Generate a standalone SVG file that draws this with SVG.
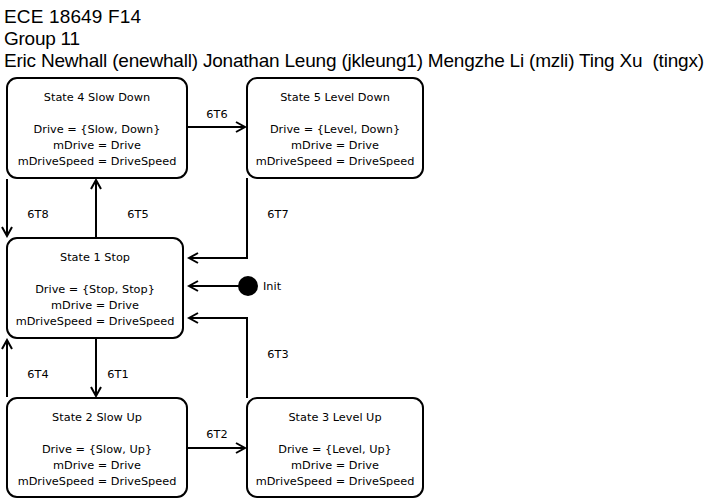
<svg xmlns="http://www.w3.org/2000/svg" width="710" height="499" viewBox="0 0 710 499">
<style>
.hdr{font-family:"Liberation Sans",Arial,sans-serif;font-size:19px;fill:#000}
.st{fill:#fff;stroke:#000;stroke-width:2}
.t{font-family:"DejaVu Sans",Tahoma,sans-serif;font-size:11.3px;fill:#000;text-anchor:middle}
.lbl{font-family:"DejaVu Sans",Tahoma,sans-serif;font-size:11.3px;fill:#000;text-anchor:middle}
.c{fill:none;stroke:#000;stroke-width:2}
</style>
<defs>
<marker id="ah" markerWidth="12" markerHeight="12" refX="10" refY="6" orient="auto" markerUnits="userSpaceOnUse">
<path d="M1,1 L10,6 L1,11" fill="none" stroke="#000" stroke-width="2"/>
</marker>
</defs>
<rect width="710" height="499" fill="#fff"/>
<g id="header">
<text class="hdr" x="4" y="23" textLength="137">ECE 18649 F14</text>
<text class="hdr" x="4" y="45" textLength="76">Group 11</text>
<text class="hdr" x="4" y="67" textLength="700" xml:space="preserve">Eric Newhall (enewhall) Jonathan Leung (jkleung1) Mengzhe Li (mzli) Ting Xu  (tingx)</text>
</g>
<g id="connectors">
<line class="c" x1="187" y1="127" x2="245" y2="127" marker-end="url(#ah)"/>
<line class="c" x1="7" y1="179" x2="7" y2="236" marker-end="url(#ah)"/>
<line class="c" x1="96" y1="238" x2="96" y2="180" marker-end="url(#ah)"/>
<polyline class="c" points="247,178 247,258 189,258" marker-end="url(#ah)"/>
<line class="c" x1="240" y1="286" x2="189" y2="286" marker-end="url(#ah)"/>
<polyline class="c" points="247,398 247,318 189,318" marker-end="url(#ah)"/>
<line class="c" x1="7" y1="397" x2="7" y2="340" marker-end="url(#ah)"/>
<line class="c" x1="96" y1="338" x2="96" y2="396" marker-end="url(#ah)"/>
<line class="c" x1="187" y1="448" x2="245" y2="448" marker-end="url(#ah)"/>
<text class="lbl" x="217" y="118">6T6</text>
<text class="lbl" x="38" y="218">6T8</text>
<text class="lbl" x="138" y="218">6T5</text>
<text class="lbl" x="278" y="218">6T7</text>
<text class="lbl" x="278" y="358">6T3</text>
<text class="lbl" x="38" y="378">6T4</text>
<text class="lbl" x="118" y="378">6T1</text>
<text class="lbl" x="217" y="438">6T2</text>
</g>
<g id="init">
<circle cx="248" cy="286" r="10" fill="#000"/>
<text x="263" y="290" font-family="DejaVu Sans,Tahoma,sans-serif" font-size="11.3">Init</text>
</g>
<g id="state4">
<rect class="st" x="7" y="78" width="180" height="100" rx="10"/>
<text class="t" x="97" y="101">State 4 Slow Down</text>
<text class="t" x="97" y="133">Drive = {Slow, Down}</text>
<text class="t" x="97" y="149">mDrive = Drive</text>
<text class="t" x="97" y="165">mDriveSpeed = DriveSpeed</text>
</g>
<g id="state5">
<rect class="st" x="247" y="78" width="176" height="100" rx="10"/>
<text class="t" x="335" y="101">State 5 Level Down</text>
<text class="t" x="335" y="133">Drive = {Level, Down}</text>
<text class="t" x="335" y="149">mDrive = Drive</text>
<text class="t" x="335" y="165">mDriveSpeed = DriveSpeed</text>
</g>
<g id="state1">
<rect class="st" x="7" y="238" width="176" height="100" rx="10"/>
<text class="t" x="95" y="261">State 1 Stop</text>
<text class="t" x="95" y="293">Drive = {Stop, Stop}</text>
<text class="t" x="95" y="309">mDrive = Drive</text>
<text class="t" x="95" y="325">mDriveSpeed = DriveSpeed</text>
</g>
<g id="state2">
<rect class="st" x="7" y="398" width="180" height="99" rx="10"/>
<text class="t" x="97" y="421">State 2 Slow Up</text>
<text class="t" x="97" y="453">Drive = {Slow, Up}</text>
<text class="t" x="97" y="469">mDrive = Drive</text>
<text class="t" x="97" y="485">mDriveSpeed = DriveSpeed</text>
</g>
<g id="state3">
<rect class="st" x="247" y="398" width="176" height="99" rx="10"/>
<text class="t" x="335" y="421">State 3 Level Up</text>
<text class="t" x="335" y="453">Drive = {Level, Up}</text>
<text class="t" x="335" y="469">mDrive = Drive</text>
<text class="t" x="335" y="485">mDriveSpeed = DriveSpeed</text>
</g>
</svg>
